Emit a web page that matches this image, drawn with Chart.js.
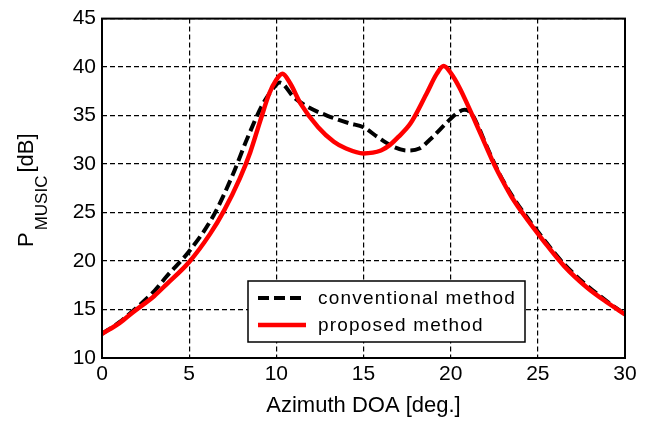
<!DOCTYPE html>
<html>
<head>
<meta charset="utf-8">
<script src="https://cdn.jsdelivr.net/npm/chart.js@4/dist/chart.umd.min.js"></script>
<style>
  html, body { margin: 0; padding: 0; background: #fff; }
  #wrap { width: 653px; height: 423px; }
</style>
</head>
<body>
<div id="wrap"><canvas id="c" width="653" height="423"></canvas></div>
<script>
// ---- data ----
const conventionalX = [0, 1, 1.8, 3, 3.7, 5, 6.4, 7.5, 8.3, 9.2, 9.7, 10.2, 11.0, 11.7, 12.9, 14.2, 15.0, 15.8, 16.7, 17.5, 18.2, 18.8, 19.9, 20.4, 20.8, 21.2, 21.6, 22.0, 22.5, 23.0, 23.5, 24.1, 25.4, 26.5, 27.8, 29.0, 30.0];
const conventionalY = [12.5, 13.7, 14.9, 16.9, 18.4, 21.0, 24.7, 28.9, 32.5, 36.1, 37.5, 38.4, 36.9, 36.0, 35.0, 34.2, 33.8, 32.8, 31.8, 31.4, 31.6, 32.5, 34.5, 35.3, 35.6, 35.2, 33.8, 32.1, 30.1, 28.3, 26.8, 25.2, 22.1, 19.7, 17.5, 15.8, 14.5];
const proposedX = [0, 1, 1.8, 3, 3.7, 5, 6.2, 7, 7.9, 8.5, 9.05, 9.6, 10.0, 10.35, 10.8, 11.4, 12.4, 13.3, 14.0, 15.0, 16.0, 16.5, 17.0, 17.7, 18.6, 19.2, 19.6, 20.0, 20.5, 21.0, 21.5, 22.0, 22.5, 23.0, 23.5, 24.1, 25.4, 26.5, 27.8, 29.0, 30.0];
const proposedY = [12.5, 13.6, 14.75, 16.4, 17.6, 19.9, 22.8, 25.2, 28.5, 31.2, 34.3, 37.3, 38.7, 39.3, 38.3, 36.2, 33.8, 32.3, 31.6, 31.1, 31.4, 31.95, 32.8, 34.2, 37.2, 39.3, 40.1, 39.4, 37.9, 36.0, 34.0, 31.95, 29.95, 28.2, 26.6, 25.0, 21.9, 19.5, 17.3, 15.7, 14.5];
const seriesNames = ["conventional method", "proposed method"];
const xTicks = [0, 5, 10, 15, 20, 25, 30];
const yTicks = [10, 15, 20, 25, 30, 35, 40, 45];
const xTitle = "Azimuth DOA [deg.]";
const yTitleMain = "P";
const yTitleSub = "MUSIC";
const yTitleUnit = "[dB]";

const FONT = "'Liberation Sans Narrow', 'Liberation Sans', Arial, sans-serif";
const TFONT = "'Liberation Sans', Arial, sans-serif";

function pts(xs, ys) { return xs.map((x, i) => ({ x: x, y: ys[i] })); }

const framePlugin = {
  id: 'frameAndTitles',
  afterDraw(chart) {
    const ctx = chart.ctx;
    const a = chart.chartArea;
    ctx.save();
    // frame
    ctx.strokeStyle = '#000';
    ctx.lineWidth = 2;
    ctx.setLineDash([]);
    ctx.strokeRect(a.left, a.top, a.right - a.left, a.bottom - a.top);

    // legend box
    const lx = 248, ly = 281, lw = 277, lh = 61;
    ctx.fillStyle = '#fff';
    ctx.fillRect(lx, ly, lw, lh);
    ctx.lineWidth = 1.5;
    ctx.strokeStyle = '#000';
    ctx.strokeRect(lx, ly, lw, lh);
    const ds = chart.data.datasets;
    const rows = [298, 325];
    ds.forEach((d, i) => {
      ctx.beginPath();
      ctx.strokeStyle = d.borderColor;
      ctx.lineWidth = d.borderWidth;
      ctx.setLineDash(d.borderDash || []);
      ctx.moveTo(258, rows[i]);
      ctx.lineTo(306, rows[i]);
      ctx.stroke();
      ctx.setLineDash([]);
      ctx.fillStyle = '#000';
      ctx.font = "19px " + TFONT;
      ctx.textBaseline = 'middle';
      ctx.textAlign = 'left';
      if ('letterSpacing' in ctx) ctx.letterSpacing = '1.2px';
      ctx.fillText(d.label, 318, rows[i] + 1);
      if ('letterSpacing' in ctx) ctx.letterSpacing = '0px';
    });

    // x title
    ctx.fillStyle = '#000';
    ctx.font = "22px " + TFONT;
    ctx.textAlign = 'center';
    ctx.textBaseline = 'alphabetic';
    ctx.fillText(xTitle, (a.left + a.right) / 2, 412);

    // y title (rotated, with subscript)
    ctx.translate(33, 247);
    ctx.rotate(-Math.PI / 2);
    ctx.textAlign = 'left';
    ctx.font = "22px " + TFONT;
    ctx.fillText(yTitleMain, 0, 0);
    let off = ctx.measureText(yTitleMain).width + 2;
    ctx.font = "17px " + TFONT;
    ctx.fillText(yTitleSub, off, 14);
    off += ctx.measureText(yTitleSub).width + 3;
    ctx.font = "22px " + TFONT;
    ctx.fillText(yTitleUnit, off, 0);
    ctx.restore();
  }
};

new Chart(document.getElementById('c'), {
  type: 'line',
  data: {
    datasets: [
      {
        label: seriesNames[0],
        data: pts(conventionalX, conventionalY),
        borderColor: '#000000',
        borderWidth: 4,
        borderDash: [11, 5],
        pointRadius: 0,
        cubicInterpolationMode: 'monotone',
        fill: false,
        order: 2
      },
      {
        label: seriesNames[1],
        data: pts(proposedX, proposedY),
        borderColor: '#ff0000',
        borderWidth: 4.5,
        pointRadius: 0,
        cubicInterpolationMode: 'monotone',
        fill: false,
        order: 1
      }
    ]
  },
  options: {
    responsive: false,
    animation: false,
    devicePixelRatio: 1,
    layout: { padding: { left: 0, top: 16, right: 28, bottom: 0 } },
    plugins: { legend: { display: false }, tooltip: { enabled: false } },
    scales: {
      x: {
        type: 'linear',
        min: 0, max: 30,
        afterBuildTicks(scale) { scale.ticks = xTicks.map(v => ({ value: v })); },
        afterFit(scale) { scale.height = 65; },
        ticks: { color: '#000', font: { family: FONT, size: 21 }, padding: 4, maxRotation: 0, autoSkip: false },
        grid: { color: '#000', lineWidth: 1.2, drawTicks: false },
        border: { display: false, dash: [5, 3] }
      },
      y: {
        type: 'linear',
        min: 10, max: 45,
        afterBuildTicks(scale) { scale.ticks = yTicks.map(v => ({ value: v })); },
        afterFit(scale) { scale.width = 102; },
        ticks: { color: '#000', font: { family: FONT, size: 21 }, padding: 6, autoSkip: false },
        grid: { color: '#000', lineWidth: 1.2, drawTicks: false },
        border: { display: false, dash: [5, 3] }
      }
    }
  },
  plugins: [framePlugin]
});
</script>
</body>
</html>
